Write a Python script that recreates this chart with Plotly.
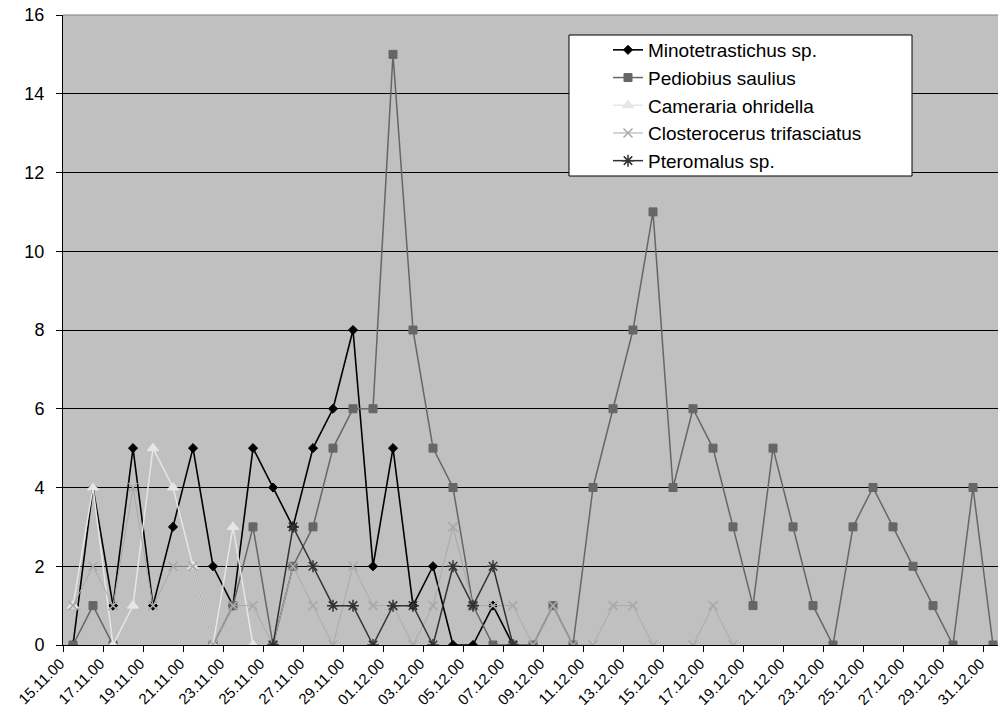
import plotly.graph_objects as go

# Daily sampling dates, 15.11.00 – 31.12.00
dates = [
    "15.11.00", "16.11.00", "17.11.00", "18.11.00", "19.11.00", "20.11.00",
    "21.11.00", "22.11.00", "23.11.00", "24.11.00", "25.11.00", "26.11.00",
    "27.11.00", "28.11.00", "29.11.00", "30.11.00", "01.12.00", "02.12.00",
    "03.12.00", "04.12.00", "05.12.00", "06.12.00", "07.12.00", "08.12.00",
    "09.12.00", "10.12.00", "11.12.00", "12.12.00", "13.12.00", "14.12.00",
    "15.12.00", "16.12.00", "17.12.00", "18.12.00", "19.12.00", "20.12.00",
    "21.12.00", "22.12.00", "23.12.00", "24.12.00", "25.12.00", "26.12.00",
    "27.12.00", "28.12.00", "29.12.00", "30.12.00", "31.12.00",
]

N = None
minotetrastichus = [0, 4, 1, 5, 1, 3, 5, 2, 1, 5, 4, 3, 5, 6, 8, 2, 5, 1, 2, 0, 0, 1, 0]
pediobius = [0, 1, 0, N, N, N, N, 0, 1, 3, 0, 2, 3, 5, 6, 6, 15, 8, 5, 4, 1, 0, 0, 0,
             1, 0, 4, 6, 8, 11, 4, 6, 5, 3, 1, 5, 3, 1, 0, 3, 4, 3, 2, 1, 0, 4, 0]
cameraria = [1, 4, 0, 1, 5, 4, 2, 0, 3, 0]
closterocerus = [1, 2, 1, 4, 1, 2, 2, 0, 1, 1, 0, 2, 1, 0, 2, 1, 1, 0, 1, 3, 1, 1, 1,
                 0, 1, 0, 0, 1, 1, 0, N, 0, 1, 0]
pteromalus = [N] * 10 + [0, 3, 2, 1, 1, 0, 1, 1, 0, 2, 1, 2, 0]

y_ticks = list(range(0, 17, 2))


def full(values):
    return values + [None] * (len(dates) - len(values))


series = [
    ("Minotetrastichus sp.", minotetrastichus, "#000000", "#000000", "diamond", 7, 1.6),
    ("Pediobius saulius", pediobius, "#666666", "#666666", "square", 8, 1.5),
    ("Cameraria ohridella", cameraria, "#e6e6e6", "#e6e6e6", "triangle-up", 10, 1.5),
    ("Closterocerus trifasciatus", closterocerus, "#a9a9a9", "#a9a9a9", "x-thin-open", 9, 1.0),
    ("Pteromalus sp.", pteromalus, "#333333", "#333333", "asterisk-open", 10, 1.5),
]

fig = go.Figure()
for name, vals, lc, mc, sym, size, lw in series:
    fig.add_trace(go.Scatter(
        x=dates, y=full(vals), name=name, mode="lines+markers",
        line=dict(color=lc, width=lw),
        marker=dict(symbol=sym, size=size, color=mc,
                    line=dict(color=mc, width=1.5 if "open" in sym else 1)),
        connectgaps=False,
    ))

W, H = 998, 711
L, T, R, B = 63, 15, 0, 66
pw, ph = W - L - R, H - T - B


def px(x):
    return (x - L) / pw


def py(y):
    return (H - B - y) / ph


font = "Liberation Sans, Arial, Helvetica, sans-serif"

fig.update_layout(
    width=W, height=H,
    margin=dict(l=L, r=R, t=T, b=B, pad=0, autoexpand=False),
    paper_bgcolor="white",
    plot_bgcolor="#c0c0c0",
    font=dict(family=font, color="black"),
    showlegend=True,
    legend=dict(
        x=px(608), y=py(31), xanchor="left", yanchor="top",
        bgcolor="rgba(0,0,0,0)", borderwidth=0,
        font=dict(size=19, family=font, color="black"),
        tracegroupgap=0,
    ),
    xaxis=dict(
        type="category", range=[-0.5, 46.25], automargin=False,
        tickmode="linear", tick0=0, dtick=2, tickson="boundaries",
        ticks="outside", ticklen=6, tickcolor="black", tickwidth=1,
        showline=True, linecolor="black", linewidth=1,
        showgrid=False, zeroline=False,
        tickangle=-45, tickfont=dict(size=15, family=font),
        ticklabelshift=-13, ticklabelstandoff=3,
    ),
    yaxis=dict(
        range=[0, 16], tickmode="array", tickvals=y_ticks, automargin=False,
        ticks="outside", ticklen=6, tickcolor="black",
        showline=True, linecolor="black", linewidth=1,
        showgrid=True, gridcolor="black", gridwidth=1,
        zeroline=False, tickfont=dict(size=18, family=font),
        ticklabelstandoff=8,
    ),
    shapes=[
        # plot-area top edge
        dict(type="line", xref="paper", yref="paper", x0=0, x1=1, y0=1, y1=1,
             line=dict(color="#808080", width=1), layer="above"),
        # legend frame
        dict(type="rect", xref="paper", yref="paper",
             x0=px(569), x1=px(912), y0=py(176), y1=py(35),
             fillcolor="white", line=dict(color="black", width=1), layer="above"),
    ],
)

fig.write_html("out.html")
